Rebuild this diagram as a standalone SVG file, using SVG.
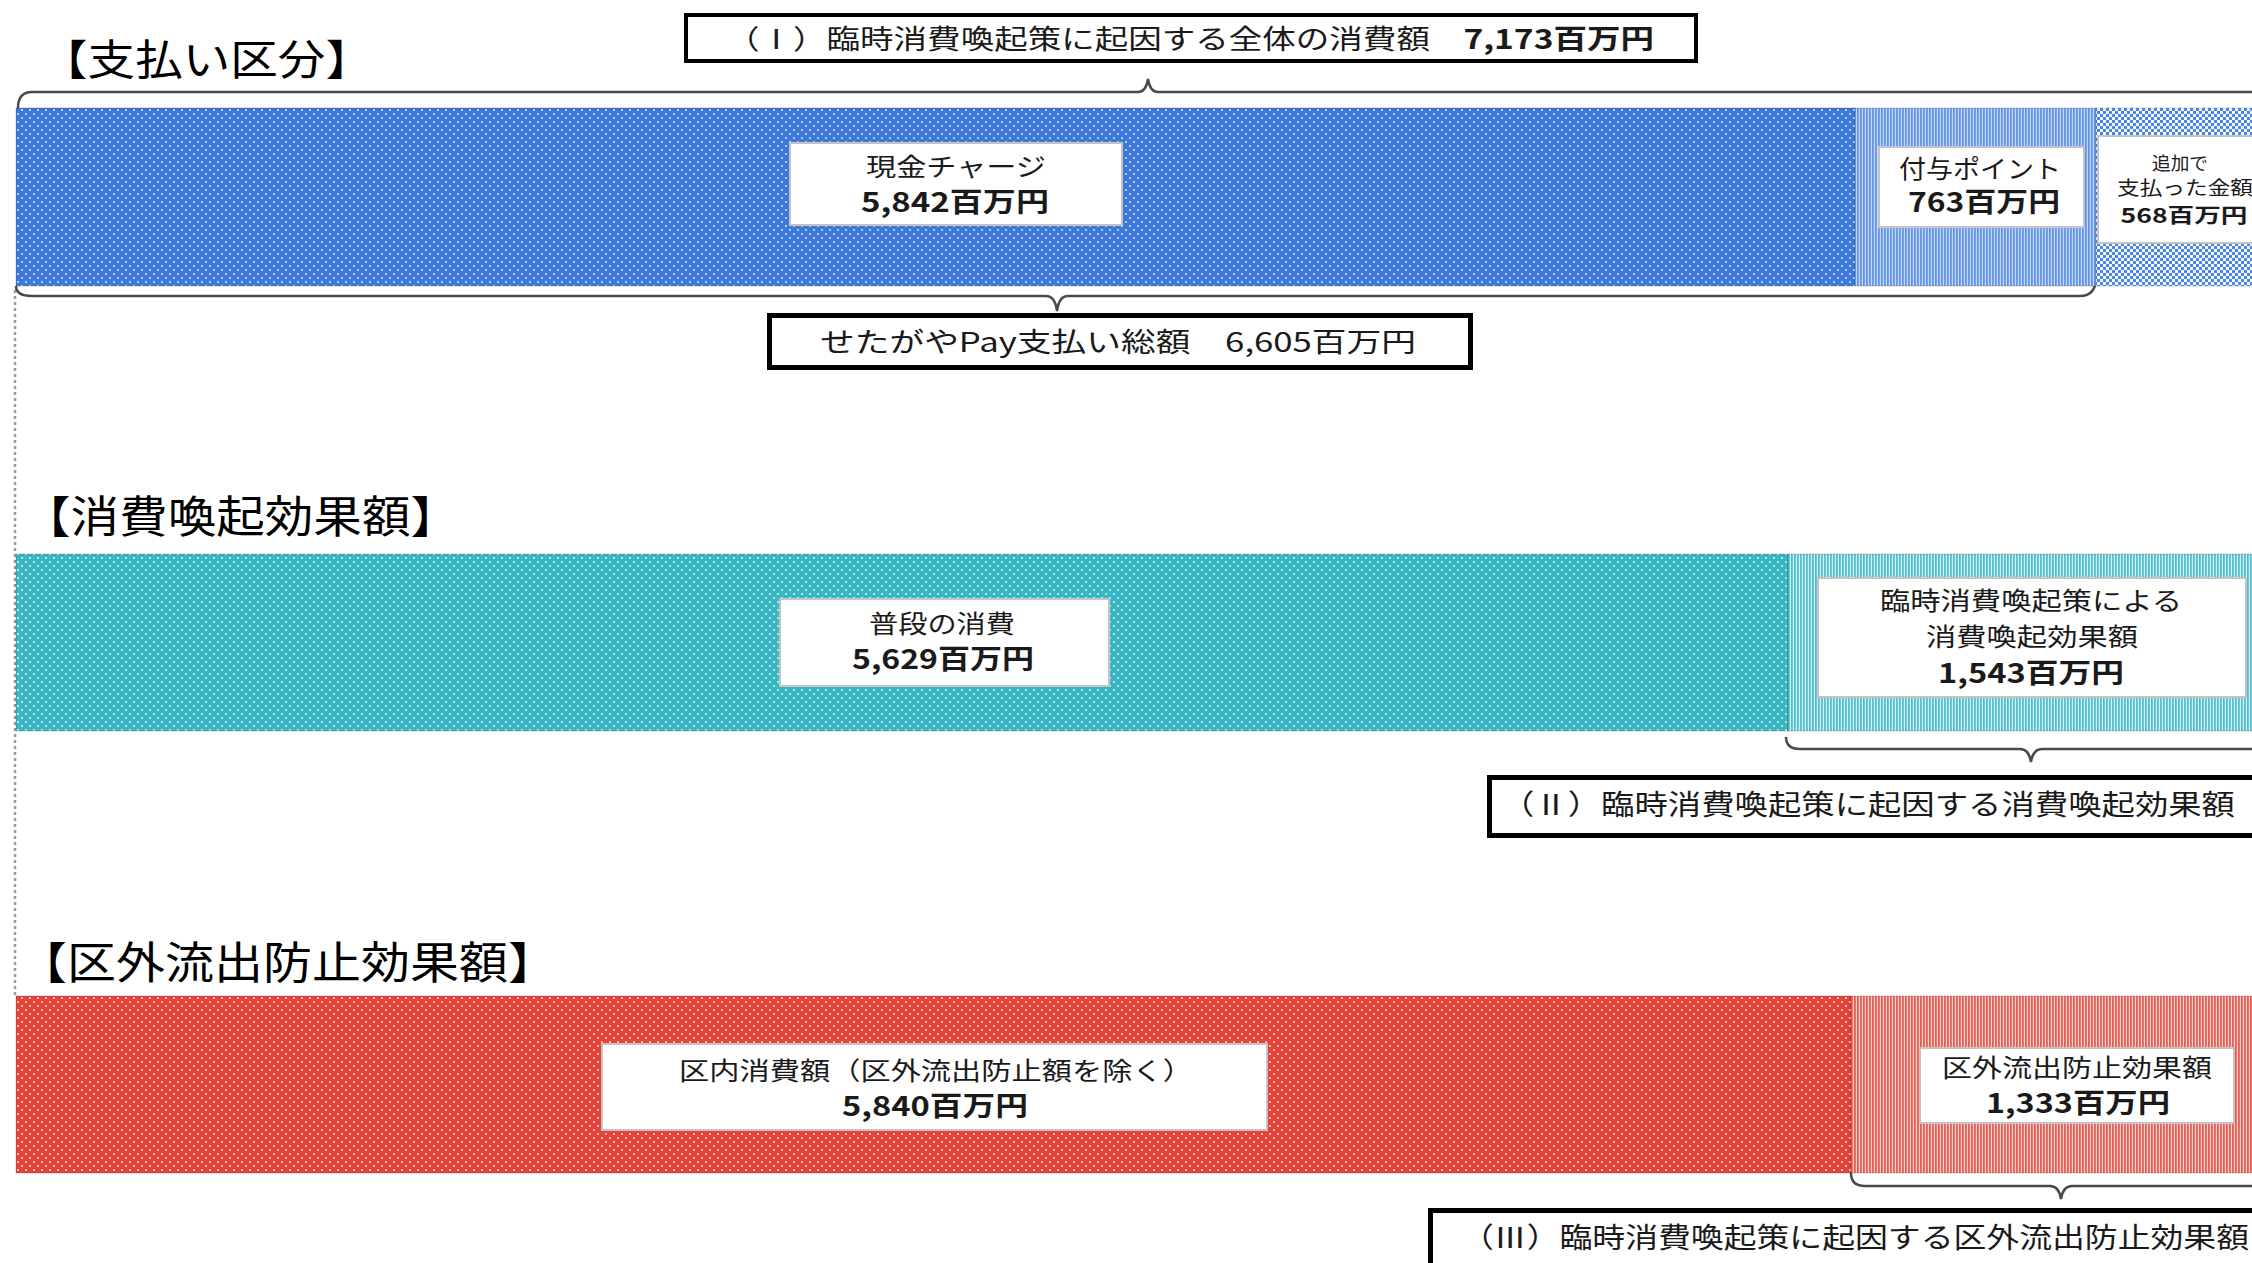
<svg xmlns="http://www.w3.org/2000/svg" width="2252" height="1263" viewBox="0 0 2252 1263">
<defs>
<pattern id="dotsBlue" width="8" height="8" patternUnits="userSpaceOnUse"><rect width="8" height="8" fill="#3d78dc"/><circle cx="2" cy="2" r="1" fill="#dfe9fb"/><circle cx="6" cy="6" r="1" fill="#dfe9fb"/></pattern>
<pattern id="stripesBlue" width="3" height="6" patternUnits="userSpaceOnUse"><rect width="3" height="6" fill="#c6d8f7"/><rect width="1.8" height="6" fill="#6396e8"/></pattern>
<pattern id="checkBlue" width="6" height="6" patternUnits="userSpaceOnUse"><rect width="6" height="6" fill="#f4f8ff"/><rect width="3" height="3" fill="#4c87e6"/><rect x="3" y="3" width="3" height="3" fill="#4c87e6"/></pattern>
<pattern id="dotsTeal" width="8" height="8" patternUnits="userSpaceOnUse"><rect width="8" height="8" fill="#38b6c4"/><circle cx="2" cy="2" r="1" fill="#e2f5f7"/><circle cx="6" cy="6" r="1" fill="#e2f5f7"/></pattern>
<pattern id="stripesTeal" width="3" height="6" patternUnits="userSpaceOnUse"><rect width="3" height="6" fill="#d4eff2"/><rect width="1.8" height="6" fill="#55c0cd"/></pattern>
<pattern id="dotsRed" width="8" height="8" patternUnits="userSpaceOnUse"><rect width="8" height="8" fill="#e6433a"/><circle cx="2" cy="2" r="1" fill="#fbe0dd"/><circle cx="6" cy="6" r="1" fill="#fbe0dd"/></pattern>
<pattern id="stripesRed" width="3" height="6" patternUnits="userSpaceOnUse"><rect width="3" height="6" fill="#f8d2ce"/><rect width="1.8" height="6" fill="#e85e53"/></pattern>
</defs>
<style>
text{font-family:"Noto Sans CJK JP","Noto Sans",sans-serif;fill:#1a1a1a}
.title{font-size:44px;fill:#000}
.lbl{font-size:25px}
.num{font-size:27px;font-weight:700}
.cap{font-size:27px}
.lbox{fill:#fff;stroke:#c4c4c4;stroke-width:2}
.cbox{fill:#fff;stroke:#000;stroke-width:5}
.bar{stroke:rgba(0,0,0,0.18);stroke-width:1}
.brace{fill:none;stroke:#4a4a4a;stroke-width:2.5}
.dash{fill:none;stroke:#9a9a9a;stroke-width:2.5;stroke-dasharray:3 3}
</style>
<rect width="2252" height="1263" fill="#fff"/>

<g id="connectors">
<path class="dash" d="M15 290 L15 996"/>
<path class="brace" d="M18 108 Q18 92 32 92 L1138 92 Q1146 92 1148 79 Q1150 92 1158 92 L2260 92"/>
<path class="brace" d="M2096 277 Q2096 296 2080 296 L1068 296 Q1059 296 1057 311 Q1055 296 1046 296 L32 296 Q16 296 16 286"/>
<path class="brace" d="M1786 737 Q1786 749 1800 749 L2020 749 Q2029 749 2031 762 Q2033 749 2042 749 L2260 749"/>
<path class="brace" d="M1851 1173 Q1851 1186 1865 1186 L2050 1186 Q2059 1186 2061 1199 Q2063 1186 2072 1186 L2260 1186"/>
</g>

<g id="title-payment"><text class="title" x="40" y="75" style="font-size:42px" textLength="333" lengthAdjust="spacingAndGlyphs">【支払い区分】</text></g>
<g id="title-effect"><text class="title" x="22" y="533" textLength="437" lengthAdjust="spacingAndGlyphs">【消費喚起効果額】</text></g>
<g id="title-outflow"><text class="title" x="18" y="979" textLength="539" lengthAdjust="spacingAndGlyphs">【区外流出防止効果額】</text></g>

<g id="box-total">
<rect class="cbox" x="686" y="15" width="1010" height="46" style="stroke-width:4"/>
<text class="cap" x="1190" y="49" text-anchor="middle" textLength="928" lengthAdjust="spacingAndGlyphs">（Ⅰ）臨時消費喚起策に起因する全体の消費額　<tspan font-weight="700">7,173百万円</tspan></text>
</g>

<g id="bar-cash">
<rect class="bar" x="16" y="108" width="1839" height="178" fill="url(#dotsBlue)"/>
<rect class="lbox" x="790" y="143" width="332" height="82"/>
<text class="lbl" x="956" y="176" text-anchor="middle" textLength="180" lengthAdjust="spacingAndGlyphs">現金チャージ</text>
<text class="num" x="955" y="212" text-anchor="middle" textLength="188" lengthAdjust="spacingAndGlyphs">5,842百万円</text>
</g>

<g id="bar-points">
<rect class="bar" x="1855" y="108" width="241" height="178" fill="url(#stripesBlue)"/>
<rect class="lbox" x="1879" y="147" width="205" height="80"/>
<text class="lbl" x="1980" y="178" text-anchor="middle" textLength="162" lengthAdjust="spacingAndGlyphs">付与ポイント</text>
<text class="num" x="1984" y="212" text-anchor="middle" textLength="152" lengthAdjust="spacingAndGlyphs">763百万円</text>
</g>

<g id="bar-additional">
<rect class="bar" x="2096" y="108" width="170" height="178" fill="url(#checkBlue)"/>
<rect class="lbox" x="2098" y="136" width="170" height="107"/>
<text class="lbl" x="2180" y="170" text-anchor="middle" style="font-size:18px" textLength="56" lengthAdjust="spacingAndGlyphs">追加で</text>
<text class="lbl" x="2185" y="195" text-anchor="middle" style="font-size:19px" textLength="136" lengthAdjust="spacingAndGlyphs">支払った金額</text>
<text class="num" x="2184" y="223" text-anchor="middle" style="font-size:20px" textLength="127" lengthAdjust="spacingAndGlyphs">568百万円</text>
</g>

<g id="box-setagaya-pay">
<rect class="cbox" x="769.5" y="315.5" width="701" height="52"/>
<text class="cap" x="1118" y="352" text-anchor="middle" textLength="596" lengthAdjust="spacingAndGlyphs">せたがやPay支払い総額　6,605百万円</text>
</g>

<g id="bar-usual">
<rect class="bar" x="16" y="554" width="1772" height="177" fill="url(#dotsTeal)"/>
<rect class="lbox" x="780" y="599" width="329" height="87"/>
<text class="lbl" x="942" y="633" text-anchor="middle" textLength="146" lengthAdjust="spacingAndGlyphs">普段の消費</text>
<text class="num" x="943" y="669" text-anchor="middle" textLength="182" lengthAdjust="spacingAndGlyphs">5,629百万円</text>
</g>

<g id="bar-stimulus">
<rect class="bar" x="1788" y="554" width="478" height="177" fill="url(#stripesTeal)"/>
<rect class="lbox" x="1818" y="578" width="428" height="119"/>
<text class="lbl" x="2031" y="610" text-anchor="middle" textLength="302" lengthAdjust="spacingAndGlyphs">臨時消費喚起策による</text>
<text class="lbl" x="2032" y="646" text-anchor="middle" textLength="212" lengthAdjust="spacingAndGlyphs">消費喚起効果額</text>
<text class="num" x="2031" y="683" text-anchor="middle" textLength="186" lengthAdjust="spacingAndGlyphs">1,543百万円</text>
</g>

<g id="box-effect">
<rect class="cbox" x="1489.5" y="777.5" width="800" height="58"/>
<text class="cap" x="1501" y="815" style="font-size:28px" textLength="734" lengthAdjust="spacingAndGlyphs">（Ⅱ）臨時消費喚起策に起因する消費喚起効果額</text>
</g>

<g id="bar-inside">
<rect class="bar" x="16" y="996" width="1835" height="177" fill="url(#dotsRed)"/>
<rect class="lbox" x="602" y="1044" width="665" height="86"/>
<text class="lbl" x="936" y="1080" text-anchor="middle" textLength="514" lengthAdjust="spacingAndGlyphs">区内消費額（区外流出防止額を除く）</text>
<text class="num" x="935" y="1116" text-anchor="middle" textLength="186" lengthAdjust="spacingAndGlyphs">5,840百万円</text>
</g>

<g id="bar-outflow">
<rect class="bar" x="1851" y="996" width="415" height="177" fill="url(#stripesRed)"/>
<rect class="lbox" x="1920" y="1048" width="314" height="75"/>
<text class="lbl" x="2077" y="1077" text-anchor="middle" textLength="270" lengthAdjust="spacingAndGlyphs">区外流出防止効果額</text>
<text class="num" x="2078" y="1113" text-anchor="middle" textLength="184" lengthAdjust="spacingAndGlyphs">1,333百万円</text>
</g>

<g id="box-outflow">
<rect class="cbox" x="1430.5" y="1210.5" width="900" height="100"/>
<text class="cap" x="1461" y="1248" style="font-size:28px" textLength="788" lengthAdjust="spacingAndGlyphs">（Ⅲ）臨時消費喚起策に起因する区外流出防止効果額</text>
</g>
</svg>
